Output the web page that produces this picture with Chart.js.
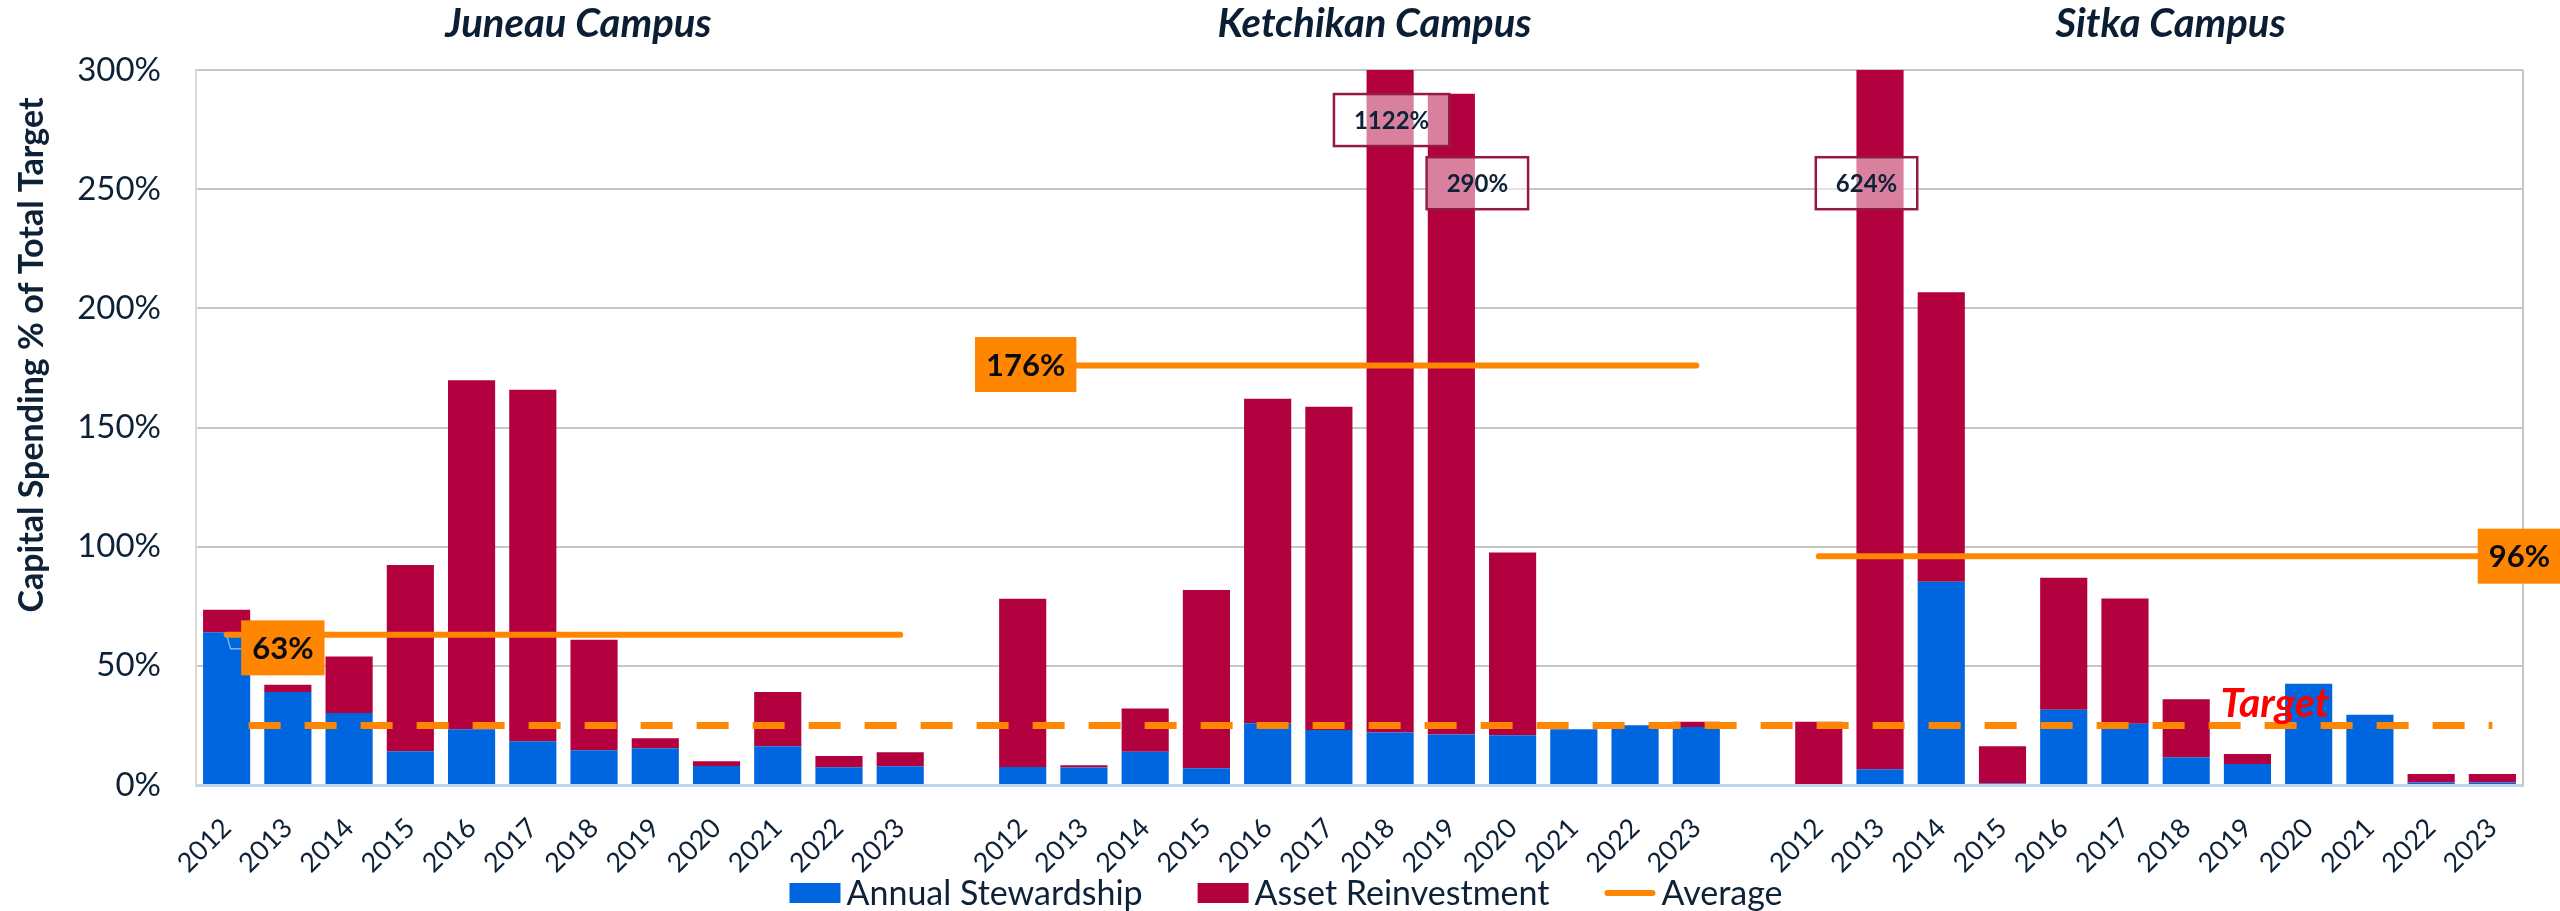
<!DOCTYPE html>
<html>
<head>
<meta charset="utf-8">
<title>Capital Spending % of Total Target</title>
<script src="https://cdn.jsdelivr.net/npm/chart.js@4.4.1/dist/chart.umd.min.js"></script>
<style>
  html, body { margin: 0; padding: 0; background: #fff; }
  #wrap { width: 2560px; height: 911px; }
</style>
</head>
<body>
<div id="wrap"><canvas id="capChart" width="2560" height="911"></canvas></div>
<script>
// values (% of total target)
const years = ['2012', '2013', '2014', '2015', '2016', '2017', '2018', '2019', '2020', '2021', '2022', '2023'];
const campuses = ['Juneau Campus', 'Ketchikan Campus', 'Sitka Campus'];

const juneauStewardship = [64.1, 39.0, 30.2, 14.2, 23.4, 18.4, 14.6, 15.4, 8.0, 16.3, 7.4, 7.9];
const juneauReinvestment = [9.4, 3.1, 23.7, 78.1, 146.4, 147.4, 46.3, 4.2, 2.0, 22.7, 4.8, 5.8];

const ketchikanStewardship = [7.6, 7.3, 13.9, 7.0, 25.9, 23.1, 22.0, 21.2, 20.9, 23.4, 25.1, 24.3];
const ketchikanReinvestment = [70.5, 1.0, 18.2, 74.8, 136.2, 135.6, 1100.0, 268.8, 76.7, 0, 0, 2.2];

const sitkaStewardship = [0, 6.6, 85.3, 0.6, 31.6, 25.7, 11.6, 8.8, 42.5, 29.5, 1.0, 1.0];
const sitkaReinvestment = [26.5, 617.4, 121.4, 15.7, 55.4, 52.6, 24.4, 4.2, 0, 0, 3.6, 3.6];

const campusAverage = [63, 176, 96];
const targetLevel = 25;
const yMax = 300;
const yStep = 50;

const BLUE = '#0066e0';
const CRIMSON = '#b3003e';
const ORANGE = '#ff8600';
const NAVY = '#0d2137';
const GRID = '#c6c6c6';

// one empty category between campuses
function byCampus(j, k, s, gap) {
  return [...j, gap, ...k, gap, ...s];
}
const labels = byCampus(years, years, years, '');
const stewardship = byCampus(juneauStewardship, ketchikanStewardship, sitkaStewardship, null);
const reinvestment = byCampus(juneauReinvestment, ketchikanReinvestment, sitkaReinvestment, null);
const averageLine = byCampus(
  years.map(() => campusAverage[0]),
  years.map(() => campusAverage[1]),
  years.map(() => campusAverage[2]),
  null
);
const targetLine = labels.map(() => targetLevel);

function idx(campus, i) {
  return campus * (years.length + 1) + i;
}

// where the labels sit (offsets in px)
const avgLabelSpots = [
  { campus: 0, index: 1, dx: -5, dy: 13 },
  { campus: 1, index: 0, dx: 3, dy: -1 },
  { campus: 2, index: 11, dx: 27, dy: 0 }
];
const overflowNotes = [
  { campus: 1, index: 6, dx: 1.5, at: 279 },
  { campus: 1, index: 7, dx: 26, at: 252.5 },
  { campus: 2, index: 1, dx: -13.5, at: 252.5 }
];

function box(ctx, cx, cy, w, h, fill, stroke, lw) {
  ctx.fillStyle = fill;
  ctx.fillRect(cx - w / 2, cy - h / 2, w, h);
  if (stroke) {
    ctx.strokeStyle = stroke;
    ctx.lineWidth = lw;
    ctx.strokeRect(cx - w / 2, cy - h / 2, w, h);
  }
}

const overlay = {
  id: 'overlay',
  beforeDatasetsDraw(chart) {
    const { ctx, chartArea } = chart;
    ctx.save();
    ctx.strokeStyle = GRID;
    ctx.lineWidth = 2;
    ctx.beginPath();
    ctx.moveTo(chartArea.right, chartArea.top);
    ctx.lineTo(chartArea.right, chartArea.bottom);
    ctx.stroke();
    ctx.restore();
  },
  afterDatasetsDraw(chart) {
    const { ctx } = chart;
    const x = chart.scales.x, y = chart.scales.y;
    ctx.save();

    // leader line of the 63% label
    const lx = x.getPixelForValue(idx(0, 0));
    const ly = y.getPixelForValue(campusAverage[0]);
    ctx.strokeStyle = '#7fb2e5';
    ctx.lineWidth = 1.5;
    ctx.beginPath();
    ctx.moveTo(lx, ly);
    ctx.lineTo(lx + 4, ly + 14);
    ctx.lineTo(lx + 16, ly + 14);
    ctx.stroke();

    // average labels
    ctx.font = 'bold 31px Lato';
    ctx.textAlign = 'center';
    ctx.textBaseline = 'middle';
    avgLabelSpots.forEach(s => {
      const txt = campusAverage[s.campus] + '%';
      const cx = x.getPixelForValue(idx(s.campus, s.index)) + s.dx;
      const cy = y.getPixelForValue(campusAverage[s.campus]) + s.dy;
      const w = ctx.measureText(txt).width + 22;
      box(ctx, cx, cy, w, 55, ORANGE);
      ctx.fillStyle = '#0a0a14';
      ctx.fillText(txt, cx, cy + 1);
    });

    // values of bars cut by the axis
    const stew = [juneauStewardship, ketchikanStewardship, sitkaStewardship];
    const reinv = [juneauReinvestment, ketchikanReinvestment, sitkaReinvestment];
    ctx.font = 'bold 24px Lato';
    overflowNotes.forEach(n => {
      const total = stew[n.campus][n.index] + reinv[n.campus][n.index];
      const txt = Math.round(total) + '%';
      const cx = x.getPixelForValue(idx(n.campus, n.index)) + n.dx;
      const cy = y.getPixelForValue(n.at);
      const w = ctx.measureText(txt).width + 40;
      box(ctx, cx, cy, w, 52, 'rgba(255,255,255,0.5)', '#951a43', 2.5);
      ctx.fillStyle = NAVY;
      ctx.fillText(txt, cx, cy + 1);
    });

    // Target text
    const tx = (x.getPixelForValue(idx(2, 7)) + x.getPixelForValue(idx(2, 8))) / 2 - 3;
    ctx.font = 'italic bold 41px Lato';
    ctx.textBaseline = 'alphabetic';
    ctx.fillStyle = '#ff0000';
    ctx.fillText('Target', tx, y.getPixelForValue(targetLevel) - 8);
    ctx.restore();
  },
  afterDraw(chart) {
    const { ctx } = chart;
    const x = chart.scales.x;
    ctx.save();
    ctx.fillStyle = '#0b1e33';
    ctx.textAlign = 'center';
    ctx.textBaseline = 'alphabetic';
    ctx.font = 'italic bold 40px Lato';
    campuses.forEach((name, c) => {
      const mid = (x.getPixelForValue(idx(c, 0)) + x.getPixelForValue(idx(c, years.length - 1))) / 2;
      ctx.fillText(name, mid + 15, 37);
    });

    // legend, drawn by hand so the spacing follows the original
    const items = chart.data.datasets.slice(0, 3).map((ds, i) => ({
      text: ds.label,
      color: i === 2 ? ds.borderColor : ds.backgroundColor,
      line: i === 2
    }));
    ctx.font = '34px Lato';
    ctx.textAlign = 'left';
    ctx.textBaseline = 'middle';
    const swatch = 51, textGap = 6, itemGap = 55, legendY = 893;
    const widths = items.map(it => swatch + textGap + ctx.measureText(it.text).width);
    const total = widths.reduce((a, b) => a + b, 0) + itemGap * (items.length - 1);
    let lx = chart.width / 2 + 6 - total / 2;
    items.forEach((it, i) => {
      if (it.line) {
        ctx.strokeStyle = it.color;
        ctx.lineWidth = 6;
        ctx.lineCap = 'round';
        ctx.beginPath();
        ctx.moveTo(lx + 3, legendY);
        ctx.lineTo(lx + swatch - 3, legendY);
        ctx.stroke();
      } else {
        ctx.fillStyle = it.color;
        ctx.fillRect(lx, legendY - 10, swatch, 20);
      }
      ctx.fillStyle = NAVY;
      ctx.fillText(it.text, lx + swatch + textGap, legendY + 1);
      lx += widths[i] + itemGap;
    });

    // y axis title
    ctx.translate(43, 355);
    ctx.rotate(-Math.PI / 2);
    ctx.textAlign = 'center';
    ctx.textBaseline = 'alphabetic';
    ctx.font = 'bold 34px Lato';
    ctx.fillStyle = NAVY;
    ctx.fillText('Capital Spending % of Total Target', 0, 0);
    ctx.restore();
  }
};

function drawChart() {
  const ctx = document.getElementById('capChart').getContext('2d');
  new Chart(ctx, {
    type: 'bar',
    data: {
      labels: labels,
      datasets: [
        { label: 'Annual Stewardship', data: stewardship, backgroundColor: BLUE, stack: 'spend', order: 2 },
        { label: 'Asset Reinvestment', data: reinvestment, backgroundColor: CRIMSON, stack: 'spend', order: 2 },
        {
          type: 'line', label: 'Average', data: averageLine, borderColor: ORANGE, borderWidth: 6,
          borderCapStyle: 'round', pointRadius: 0, spanGaps: false, stack: 'avg', order: 1
        },
        {
          type: 'line', label: 'Target', data: targetLine, borderColor: ORANGE, borderWidth: 7,
          borderDash: [32, 24], borderDashOffset: 34, pointRadius: 0, stack: 'target', order: 0
        }
      ]
    },
    options: {
      responsive: false,
      animation: false,
      devicePixelRatio: 1,
      layout: { padding: { top: 70, right: 37, left: 0, bottom: 0 } },
      datasets: { bar: { barPercentage: 0.77, categoryPercentage: 1.0 } },
      scales: {
        x: {
          stacked: true,
          ticks: {
            color: NAVY, font: { family: 'Lato', size: 27 },
            minRotation: 45, maxRotation: 45, autoSkip: false, padding: 27
          },
          grid: { display: false, drawTicks: false },
          border: { color: '#bdd7ee', width: 3 },
          afterFit: s => { s.height = 126; }
        },
        y: {
          stacked: true,
          min: 0,
          max: yMax,
          ticks: {
            stepSize: yStep, callback: v => v + '%',
            color: NAVY, font: { family: 'Lato', size: 33 }, padding: 35
          },
          grid: {
            color: c => (c.tick && c.tick.value === 0 ? 'rgba(0,0,0,0)' : GRID),
            lineWidth: 2, drawTicks: false
          },
          border: { color: '#d9d9d9', width: 2 },
          afterFit: s => { s.width = 196; }
        }
      },
      plugins: {
        tooltip: { enabled: false },
        title: { display: false },
        legend: { display: false }
      }
    },
    plugins: [overlay]
  });
}

Promise.all([
  document.fonts.load('34px Lato'),
  document.fonts.load('bold 34px Lato'),
  document.fonts.load('italic bold 40px Lato')
]).then(drawChart, drawChart);
</script>
</body>
</html>
